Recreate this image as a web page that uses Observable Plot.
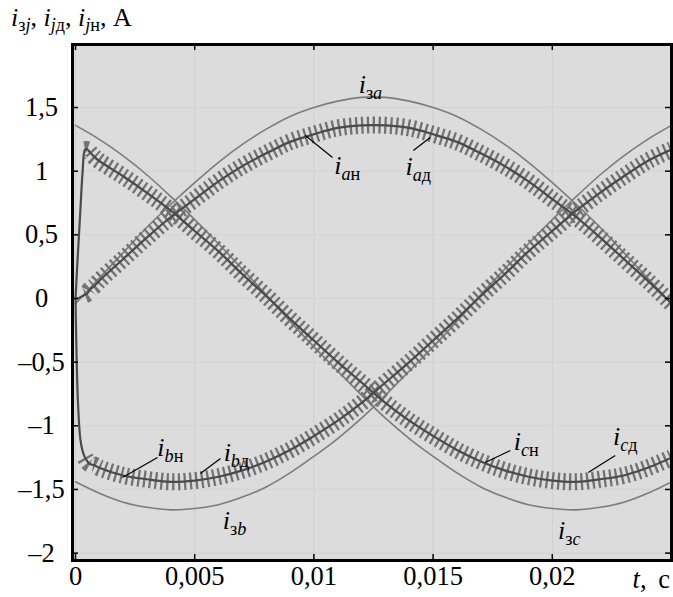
<!DOCTYPE html>
<html><head><meta charset="utf-8">
<script src="https://cdn.jsdelivr.net/npm/d3@7"></script>
<script src="https://cdn.jsdelivr.net/npm/@observablehq/plot@0.6"></script>
<style>
body{margin:0;background:#fff;}
#wrap{position:relative;width:673px;height:597px;font-family:"Liberation Serif","Times New Roman",serif;color:#000;}
#chart{position:absolute;left:0;top:0;}
#title{position:absolute;left:11px;top:2px;font-size:26px;white-space:nowrap;line-height:1.2;}
#title sub{font-size:0.7em;vertical-align:-0.3em;line-height:0;}
#xlab{position:absolute;right:3px;top:566px;font-size:26.5px;line-height:1;white-space:nowrap;word-spacing:5px;}
</style></head><body>
<div id="wrap"><div id="chart"></div>
<div id="title"><i>i</i><sub>з<i>j</i></sub>, <i>i</i><sub><i>j</i>д</sub>, <i>i</i><sub><i>j</i>н</sub>, A</div>
<div id="xlab"><i>t</i>, c</div></div>
<script>
// time axis of reference (set-point) currents, s
const tRef = [0,0.001,0.002,0.003,0.004,0.005,0.006,0.007,0.008,0.009,0.010,0.011,0.012,0.013,0.014,0.015,0.016,0.017,0.018,0.019,0.020,0.021,0.022,0.023,0.024,0.025];
// reference currents i_з (A)
const izA = [-0.04,0.16,0.36,0.56,0.74,0.91,1.07,1.21,1.33,1.43,1.50,1.55,1.58,1.58,1.55,1.50,1.43,1.33,1.21,1.07,0.91,0.74,0.56,0.36,0.16,-0.04];
const izB = [-1.44,-1.53,-1.60,-1.64,-1.66,-1.65,-1.62,-1.56,-1.48,-1.37,-1.24,-1.10,-0.94,-0.76,-0.57,-0.38,-0.18,0.03,0.23,0.43,0.62,0.80,0.97,1.12,1.25,1.36];
const izC = [1.36,1.25,1.12,0.97,0.80,0.62,0.43,0.23,0.03,-0.18,-0.38,-0.57,-0.76,-0.94,-1.10,-1.24,-1.37,-1.48,-1.56,-1.62,-1.65,-1.66,-1.64,-1.60,-1.53,-1.44];
// time axis of actual currents, s
const tAct = [0,0.0001,0.0002,0.0003,0.0004,0.0005,0.0006,0.0008,0.001,0.002,0.003,0.004,0.005,0.006,0.007,0.008,0.009,0.010,0.011,0.012,0.013,0.014,0.015,0.016,0.017,0.018,0.019,0.020,0.021,0.022,0.023,0.024,0.025];
// actual currents i_jд / i_jн (A)
const iA = [0,0,0.01,0.02,0.03,0.04,0.07,0.10,0.14,0.31,0.48,0.64,0.78,0.92,1.04,1.14,1.23,1.29,1.34,1.36,1.36,1.34,1.29,1.23,1.14,1.04,0.92,0.78,0.64,0.48,0.31,0.14,-0.04];
const iB = [0,-0.80,-1.10,-1.20,-1.25,-1.28,-1.30,-1.31,-1.33,-1.39,-1.42,-1.44,-1.43,-1.40,-1.35,-1.28,-1.19,-1.08,-0.96,-0.82,-0.66,-0.50,-0.33,-0.16,0.02,0.19,0.37,0.53,0.69,0.83,0.96,1.08,1.17];
const iC = [0,0.35,0.68,1.00,1.17,1.17,1.15,1.11,1.08,0.96,0.83,0.69,0.53,0.37,0.19,0.02,-0.16,-0.33,-0.50,-0.66,-0.82,-0.96,-1.08,-1.19,-1.28,-1.35,-1.40,-1.43,-1.44,-1.42,-1.39,-1.33,-1.25];
// axis ticks
const xTicks = [0,0.005,0.01,0.015,0.02];
const xTickLabels = ["0","0,005","0,01","0,015","0,02"];
const yTicks = [-2,-1.5,-1,-0.5,0,0.5,1,1.5];
const yTickLabels = ["–2","–1,5","–1","–0,5","0","0,5","1","1,5"];
// curve labels
const labelText = ["iзa","iaн","iaд","ibн","ibд","iзb","icн","icд","iзc"];
const labelT = [0.01237,0.0114,0.01438,0.00398,0.00675,0.00667,0.01891,0.02306,0.02071];
const labelV = [1.68,1.045,1.037,-1.170,-1.210,-1.744,-1.123,-1.084,-1.822];
// leader lines
const leadT1 = [0.00964,0.01488,0.00197,0.00524,0.01719,0.02151];
const leadV1 = [1.280,1.265,-1.406,-1.375,-1.288,-1.367];
const leadT2 = [0.01078,0.01417,0.00344,0.00608,0.01824,0.02264];
const leadV2 = [1.108,1.163,-1.249,-1.257,-1.194,-1.233];

const refRows = [];
[["a",izA],["b",izB],["c",izC]].forEach(([s,arr]) => tRef.forEach((t,i) => refRows.push({t, v: arr[i], s})));
const actRows = [];
[["a",iA],["b",iB],["c",iC]].forEach(([s,arr]) => tAct.forEach((t,i) => actRows.push({t, v: arr[i], s})));
const labels = labelText.map((text,i) => ({text, t: labelT[i], v: labelV[i]}));
const leaders = leadT1.map((t,i) => ({t1: t, v1: leadV1[i], t2: leadT2[i], v2: leadV2[i]}));

const W = 673, H = 597, mL = 72, mR = 2, mT = 44, mB = 37;
const pw = W - mL - mR, ph = H - mT - mB;
const FONT = "'Liberation Serif','Times New Roman',serif";

const plot = Plot.plot({
  width: W, height: H,
  marginLeft: mL, marginRight: mR, marginTop: mT, marginBottom: mB,
  style: {fontFamily: FONT, fontSize: "26.5px", background: "transparent", overflow: "visible", color: "#000"},
  x: {domain: [-0.000126, 0.025], ticks: xTicks, tickFormat: d => xTickLabels[xTicks.indexOf(d)], label: null, tickSize: 0, tickPadding: 6},
  y: {domain: [-2.058, 1.995], axis: null},
  marks: [
    Plot.frame({fill: "#dcdcdc"}),
    Plot.ruleX(xTicks, {stroke: "#cfcfcf", strokeWidth: 1}),
    Plot.ruleY(yTicks, {stroke: "#d3d3d3", strokeWidth: 1}),
    Plot.line(refRows, {x: "t", y: "v", z: "s", stroke: "#7c7c7c", strokeWidth: 1.6, curve: "catmull-rom", clip: true}),
    Plot.line(actRows.filter(d => d.t >= 0.0004), {x: "t", y: "v", z: "s", stroke: "#727272", strokeWidth: 17, strokeDasharray: "2.3,3.5", strokeLinecap: "butt", strokeLinejoin: "miter", curve: "catmull-rom", clip: true}),
    Plot.line(actRows, {x: "t", y: "v", z: "s", stroke: "#4a4a4a", strokeWidth: 2.2, curve: "catmull-rom", clip: true}),
    Plot.link(leaders, {x1: "t1", y1: "v1", x2: "t2", y2: "v2", stroke: "#000", strokeWidth: 1.2}),
    Plot.text(labels, {x: "t", y: "v", text: "text", fontSize: 26, fill: "#000"}),
    Plot.text(yTicks, {y: d => d, frameAnchor: "left", text: d => yTickLabels[yTicks.indexOf(d)], dx: -31, textAnchor: "middle", fontSize: 26.5, fill: "#000"}),
    Plot.tickY(yTicks, {insetRight: pw - 6, stroke: "#000", strokeWidth: 1.5}),
    Plot.tickY(yTicks, {insetLeft: pw - 6, stroke: "#000", strokeWidth: 1.5}),
    Plot.tickX(xTicks, {insetTop: ph - 6, stroke: "#000", strokeWidth: 1.5}),
    Plot.tickX(xTicks, {insetBottom: ph - 6, stroke: "#000", strokeWidth: 1.5}),
    Plot.frame({stroke: "#000", strokeWidth: 3})
  ]
});

// rich-text subscripts for curve labels (labels start with the italic "i")
d3.select(plot).selectAll('g[aria-label="text"] text').each(function() {
  const s = this.textContent;
  if (s[0] !== "i") return;
  const el = d3.select(this);
  el.text("");
  el.append("tspan").attr("font-style", "italic").text(s[0]);
  let first = true;
  for (const ch of s.slice(1)) {
    const ts = el.append("tspan").attr("font-size", "0.7em").text(ch);
    if (/[a-z]/.test(ch)) ts.attr("font-style", "italic");
    if (first) { ts.attr("dy", "0.32em"); first = false; }
  }
});
document.getElementById("chart").appendChild(plot);
</script>
</body></html>
